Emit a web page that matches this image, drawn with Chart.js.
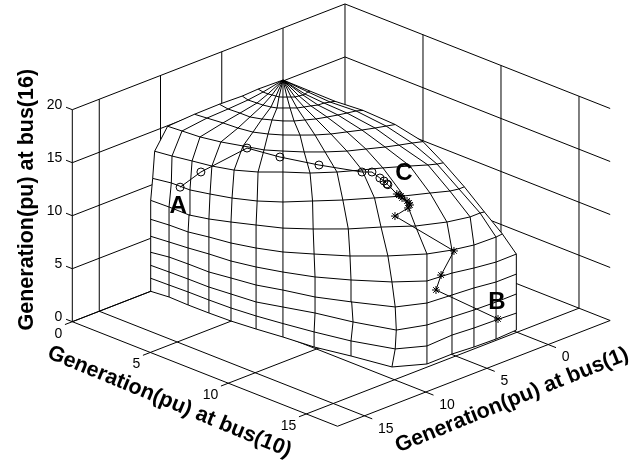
<!DOCTYPE html>
<html>
<head>
<meta charset="utf-8">
<style>
  html, body { margin: 0; padding: 0; background: #fff; }
  canvas { display: block; }
</style>
<script src="https://cdn.jsdelivr.net/npm/chart.js@4"></script>
</head>
<body>
<canvas id="chart" width="635" height="463"></canvas>
<script>
// axes, in pu
const bus10Ticks = [0, 5, 10, 15];
const bus1Ticks = [0, 5, 10, 15];
const bus16Ticks = [0, 5, 10, 15, 20];
const bus10Max = 17;
const bus1Min = -5.06;
const bus1Max = 17.2;
const bus16Max = 20;

// generation at bus 10 and bus 1 where each meridian of the region meets the floor
const floorBus10 = [0, 1.05, 2.31, 3.63, 4.99, 6.44, 7.95, 9.76, 11.67, 13.87, 14.74, 14.72, 14.84, 14.89, 14.8];
const floorBus1 = [10.8, 10.64, 10.69, 10.67, 10.6, 10.4, 10.13, 9.89, 9.31, 8.77, 7.02, 4.95, 3.31, 1.57, -0.2];

// share of the floor value reached by each mesh vertex (row = latitude, bottom first)
const meshShare = [
  [1, 1, 1, 1, 1, 1, 1, 1, 1, 1, 1, 1, 1, 1, 1],
  [1, 1, 1, 1, 1, 1, 1, 1, 1, 1.03, 1, 1, 1, 1, 1],
  [1, 1, 1, 1, 1, 1, 1, 1.03, 1.03, 1.04, 1, 1, 1, 1, 1],
  [1, 1, 1, 1, 1, 1, 1, 1.03, 1.01, 1.03, 1, 1, 1, 1, 1],
  [1, 1, 1, 1, 1, 1, 1, 1.03, 1, 1, 1, 1, 1, 1, 1],
  [1, 1, 1, 1, 1, 1, 1, 1, 0.985, 0.963, 1, 1, 1, 1, 0.94],
  [1, 1, 0.99, 1, 1, 1, 0.97, 0.97, 0.96, 0.9, 0.92, 0.97, 0.98, 0.925, 0.863],
  [0.985, 0.98, 0.98, 0.985, 0.98, 0.96, 0.96, 0.95, 0.88, 0.84, 0.84, 0.87, 0.874, 0.826, 0.777],
  [0.97, 0.974, 0.958, 0.96, 0.94, 0.926, 0.9, 0.87, 0.794, 0.725, 0.694, 0.751, 0.759, 0.723, 0.687],
  [0.872, 0.886, 0.874, 0.838, 0.769, 0.704, 0.72, 0.68, 0.618, 0.587, 0.576, 0.604, 0.607, 0.606, 0.6],
  [0.669, 0.667, 0.632, 0.608, 0.577, 0.556, 0.55, 0.548, 0.47, 0.44, 0.444, 0.467, 0.482, 0.484, 0.481],
  [0.481, 0.482, 0.453, 0.446, 0.404, 0.407, 0.38, 0.355, 0.324, 0.303, 0.306, 0.325, 0.335, 0.343, 0.343],
  [0.308, 0.307, 0.274, 0.27, 0.231, 0.222, 0.24, 0.226, 0.206, 0.193, 0.194, 0.207, 0.215, 0.221, 0.223],
  [0.188, 0.175, 0.158, 0.149, 0.135, 0.148, 0.12, 0.129, 0.118, 0.11, 0.111, 0.118, 0.115, 0.117, 0.116]
];

// generation at bus 16 for the same vertices
const meshBus16 = [
  [0, 0, 0, 0, 0, 0, 0, 0, 0, 0, 0, 0, 0, 0, 0],
  [1.23, 1.13, 1.23, 1.23, 1.23, 1.23, 1.27, 1.42, 1.42, 2.06, 1.7, 1.79, 1.79, 1.79, 1.6],
  [2.45, 2.36, 2.45, 2.45, 2.55, 2.55, 2.83, 3.51, 3.54, 3.96, 3.68, 3.49, 3.49, 3.49, 3.4],
  [3.68, 3.77, 3.87, 3.87, 4.06, 4.15, 4.43, 5.02, 5.21, 6.02, 5.75, 5.57, 5.57, 5.38, 5.28],
  [5.19, 5.19, 5.38, 5.57, 5.66, 5.85, 6.13, 6.91, 7.17, 8.02, 7.83, 7.64, 7.45, 7.26, 7.17],
  [6.79, 6.79, 6.89, 7.17, 7.36, 7.64, 8.02, 8.77, 9.27, 10.03, 10.38, 9.81, 9.62, 9.62, 8.56],
  [8.58, 8.49, 8.43, 8.87, 9.34, 9.81, 10.0, 10.83, 11.55, 12.0, 12.08, 12.13, 12.07, 11.19, 9.98],
  [10.58, 10.65, 10.73, 11.12, 11.45, 11.74, 12.37, 13.27, 13.4, 14.03, 13.98, 13.79, 13.44, 12.53, 11.62],
  [13.07, 13.16, 13.33, 13.59, 13.78, 14.19, 14.65, 15.1, 15.1, 15.29, 14.92, 15.06, 14.74, 13.92, 13.12],
  [14.95, 15.05, 15.08, 15.02, 14.75, 14.41, 14.98, 15.17, 15.07, 15.42, 15.32, 15.27, 15.08, 14.81, 14.38],
  [15.1, 15.09, 14.92, 14.75, 14.59, 14.67, 14.94, 15.43, 15.05, 15.27, 15.39, 15.4, 15.43, 15.27, 14.98],
  [15.14, 14.95, 14.75, 14.68, 14.5, 14.74, 14.71, 14.81, 14.87, 15.05, 15.18, 15.29, 15.36, 15.38, 15.14],
  [15.07, 14.86, 14.6, 14.59, 14.31, 14.32, 14.65, 14.74, 14.71, 14.86, 14.92, 14.96, 15.09, 15.08, 14.98],
  [15.15, 14.9, 14.75, 14.71, 14.61, 14.74, 14.58, 14.79, 14.78, 14.81, 14.89, 14.95, 14.93, 15.06, 15.03]
];
const apexBus16 = 15.09;

// path A to C (circles)
const circleBus10 = [1.61, 2.85, 4.18, 5.96, 8.03, 9.97, 10.29, 10.86, 11.06, 11.22, 11.27];
const circleBus1 = [10.45, 10.33, 8.26, 7.84, 7.29, 6.25, 5.84, 5.92, 5.84, 5.8, 5.79];
const circleBus16 = [10.6, 12.7, 14.8, 14.8, 15, 15, 15, 14.8, 14.6, 14.4, 14.35];

// path C to B (stars)
const starBus10 = [11.58, 11.64, 11.7, 11.81, 12.04, 12.18, 12.2, 12.12, 11.85, 14.76, 14.24, 14, 14.96];
const starBus1 = [5.45, 5.35, 5.27, 5.32, 5.21, 5.22, 5.17, 5.23, 5.95, 4.84, 5.23, 5.34, 1.5];
const starBus16 = [13.5, 13.4, 13.3, 13.2, 13, 12.9, 12.7, 12.4, 11.8, 9.7, 7.3, 5.8, 1.9];

const titleBus10 = "Generation(pu) at bus(10)";
const titleBus1 = "Generation(pu) at bus(1)";
const titleBus16 = "Generation(pu) at bus(16)";

// fixed 3D view, same job as view(az, el) in the original figure
function project(b10, b1, b16) {
  return {
    x: 283 + 15.6 * b10 - 12.25 * b1,
    y: 240 + 6.15 * b10 + 4.75 * b1 - 10.6 * b16
  };
}

function lineSet(points, order, extra) {
  return Object.assign({
    data: points,
    showLine: true,
    borderColor: "#000",
    borderWidth: 1,
    pointRadius: 0,
    fill: false,
    order: order
  }, extra || {});
}

const datasets = [];

// left wall, right wall and floor
bus16Ticks.forEach(z => {
  datasets.push(lineSet([project(-0.4, bus1Max, z), project(0, bus1Max, z), project(0, bus1Min, z), project(bus10Max, bus1Min, z)], 5));
});
bus1Ticks.concat([bus1Min, bus1Max]).forEach(b => {
  datasets.push(lineSet([project(0, b, 0), project(0, b, bus16Max)], 5));
});
bus10Ticks.filter(a => a > 0).forEach(a => {
  datasets.push(lineSet([project(a, bus1Min, 0), project(a, bus1Min, bus16Max)], 5));
});
bus10Ticks.forEach(a => {
  datasets.push(lineSet([project(a, bus1Min, 0), project(a, bus1Max + 0.6, 0)], 5));
});
bus1Ticks.forEach(b => {
  datasets.push(lineSet([project(0, b, 0), project(bus10Max + 0.5, b, 0)], 5));
});
datasets.push(lineSet([project(0, bus1Max, 0), project(bus10Max, bus1Max, 0), project(bus10Max, bus1Min, 0)], 5));

// mesh vertices
const apex = project(0, 0, apexBus16);
const mesh = meshShare.map((row, r) => row.map((share, c) =>
  project(floorBus10[c] * share, floorBus1[c] * share, meshBus16[r][c])));
const lastCol = floorBus10.length - 1;

// white surface hides whatever is behind it
const outline = mesh[0].slice()
  .concat(mesh.slice(1).map(row => row[lastCol]))
  .concat([apex])
  .concat(mesh.slice(1).reverse().map(row => row[0]));
datasets.push(lineSet(outline, 4, { fill: "shape", backgroundColor: "#fff", borderWidth: 0 }));

mesh.forEach(row => datasets.push(lineSet(row, 3)));
floorBus10.forEach((_, c) => {
  datasets.push(lineSet(mesh.map(row => row[c]).concat([apex]), 3));
});

datasets.push(lineSet(circleBus10.map((v, i) => project(v, circleBus1[i], circleBus16[i])), 1, {
  pointStyle: "circle", pointRadius: 4, pointBorderColor: "#000", pointBorderWidth: 1, pointBackgroundColor: "transparent"
}));
datasets.push(lineSet([project(circleBus10[10], circleBus1[10], circleBus16[10]), project(starBus10[0], starBus1[0], starBus16[0])], 1));
datasets.push(lineSet(starBus10.map((v, i) => project(v, starBus1[i], starBus16[i])), 1, {
  pointStyle: "star", pointRadius: 4, pointBorderColor: "#000", pointBorderWidth: 1
}));

const textPlugin = {
  id: "axisText",
  afterDraw(chart) {
    const ctx = chart.ctx;
    const sx = chart.scales.x, sy = chart.scales.y;
    const put = (str, p, dx, dy, align, font, angle) => {
      ctx.save();
      ctx.translate(sx.getPixelForValue(p.x) + dx, sy.getPixelForValue(p.y) + dy);
      ctx.rotate((angle || 0) * Math.PI / 180);
      ctx.font = font;
      ctx.fillStyle = "#000";
      ctx.textAlign = align;
      ctx.textBaseline = "middle";
      ctx.fillText(str, 0, 0);
      ctx.restore();
    };
    const tickFont = "14px 'Liberation Sans'";
    const titleFont = "bold 21.5px 'Liberation Sans'";
    const noteFont = "bold 24px 'Liberation Sans'";

    bus16Ticks.forEach(z => put(String(z), project(0, bus1Max, z), -10, -4.5, "right", tickFont));
    bus10Ticks.forEach(a => put(String(a), project(a, bus1Max, 0), -10, 12, "right", tickFont));
    bus1Ticks.forEach(b => put(String(b), project(bus10Max, b, 0), 13.5, 13, "left", tickFont));

    put(titleBus16, project(0, bus1Max, 10), -45.5, -16, "center", titleFont, -90);
    put(titleBus10, project(8.5, bus1Max, 0), -35.5, 28, "center", titleFont, 22.4);
    put(titleBus1, project(bus10Max, 5, 0), 25, 32, "center", titleFont, -22);

    put("A", project(circleBus10[0], circleBus1[0], circleBus16[0]), -2, 19, "center", noteFont);
    put("B", project(starBus10[12], starBus1[12], starBus16[12]), -1, -17, "center", noteFont);
    put("C", project(circleBus10[7], circleBus1[7], circleBus16[7]), 24, -5, "center", noteFont);
  }
};

new Chart(document.getElementById("chart").getContext("2d"), {
  type: "scatter",
  data: { datasets: datasets },
  options: {
    responsive: false,
    animation: false,
    layout: { padding: 0, autoPadding: false },
    plugins: { legend: { display: false }, tooltip: { enabled: false } },
    scales: {
      x: { type: "linear", min: 0, max: 635, display: false },
      y: { type: "linear", min: 0, max: 463, reverse: true, display: false }
    }
  },
  plugins: [textPlugin]
});
</script>
</body>
</html>
